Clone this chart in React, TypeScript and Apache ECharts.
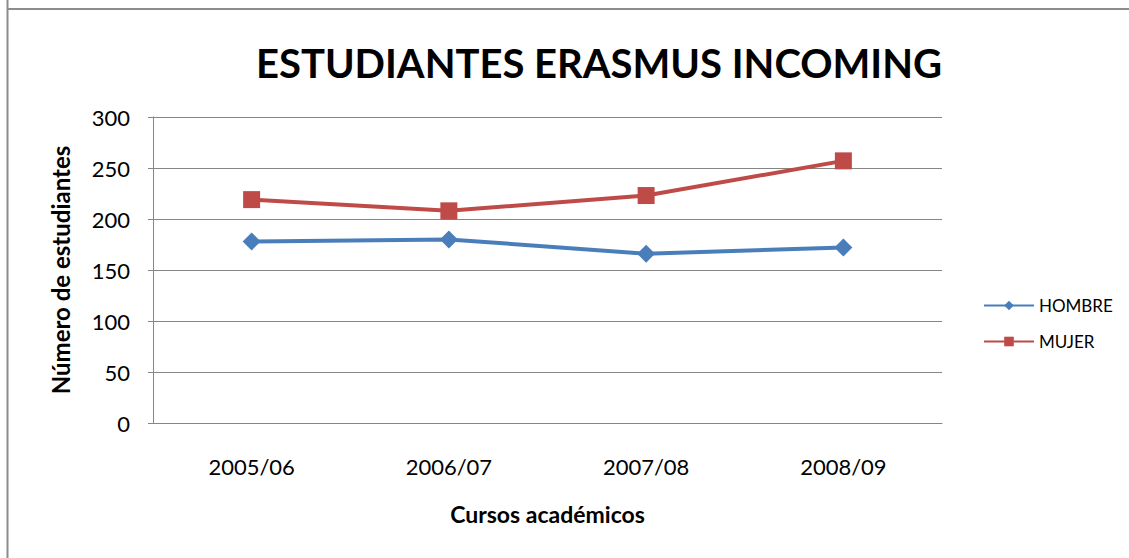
import React, { useEffect, useRef } from "react";
import * as echarts from "echarts";

const categories = ["2005/06", "2006/07", "2007/08", "2008/09"];
const hombre = [178, 180, 166, 172];
const mujer = [219, 208, 223, 257];
const yTicks = { min: 0, max: 300, interval: 50 };

const FONT = 'Lato, "Open Sans", sans-serif';

export default function App() {
  const ref = useRef<HTMLDivElement>(null);
  useEffect(() => {
    if (!ref.current) return;
    const chart = echarts.init(ref.current, null, { renderer: "svg" });
    chart.setOption({
      animation: false,
      backgroundColor: "#ffffff",
      textStyle: { fontFamily: FONT },
      title: {
        text: "ESTUDIANTES ERASMUS INCOMING",
        left: 594,
        textAlign: "center",
        top: 38,
        textStyle: { fontFamily: FONT, fontSize: 40, fontWeight: "bold", color: "#000" },
      },
      grid: { left: 153, right: 187, top: 117, bottom: 135, containLabel: false },
      legend: {
        orient: "vertical",
        left: 978,
        top: 292,
        itemWidth: 50,
        itemHeight: 12,
        itemGap: 19,
        textStyle: { fontFamily: FONT, fontSize: 17, color: "#000" },
        data: ["HOMBRE", "MUJER"],
      },
      xAxis: {
        type: "category",
        data: categories,
        boundaryGap: true,
        name: "Cursos académicos",
        nameLocation: "middle",
        nameGap: 79,
        nameTextStyle: { fontFamily: FONT, fontSize: 23, fontWeight: "bold", color: "#000" },
        axisLine: { lineStyle: { color: "#868686", width: 1 } },
        axisTick: { show: false },
        axisLabel: { fontFamily: FONT, fontSize: 22, color: "#000", margin: 32 },
      },
      yAxis: {
        type: "value",
        min: yTicks.min,
        max: yTicks.max,
        interval: yTicks.interval,
        name: "Número de estudiantes",
        nameLocation: "middle",
        nameGap: 81,
        nameTextStyle: { fontFamily: FONT, fontSize: 24, fontWeight: "bold", color: "#000" },
        axisLine: { show: true, lineStyle: { color: "#868686", width: 1 } },
        axisTick: { show: true, length: 5, lineStyle: { color: "#868686" } },
        axisLabel: { fontFamily: FONT, fontSize: 22, color: "#000", margin: 23 },
        splitLine: { lineStyle: { color: "#868686", width: 1 } },
      },
      series: [
        {
          name: "HOMBRE",
          type: "line",
          data: hombre,
          color: "#4a7ebb",
          lineStyle: { width: 4, color: "#4a7ebb" },
          symbol: "diamond",
          symbolSize: 18,
          itemStyle: { color: "#4a7ebb" },
        },
        {
          name: "MUJER",
          type: "line",
          data: mujer,
          color: "#be4b48",
          lineStyle: { width: 4, color: "#be4b48" },
          symbol: "rect",
          symbolSize: 17,
          itemStyle: { color: "#be4b48" },
        },
      ],
      graphic: [
        { type: "line", shape: { x1: 7.5, y1: 0, x2: 7.5, y2: 558 }, style: { stroke: "#8c8c8c", lineWidth: 2 } },
        { type: "line", shape: { x1: 7, y1: 9, x2: 1129, y2: 9 }, style: { stroke: "#8c8c8c", lineWidth: 2 } },
      ],
    });
    return () => chart.dispose();
  }, []);
  return <div ref={ref} style={{ position: "absolute", left: 0, top: 0, width: 1129, height: 558 }} />;
}
